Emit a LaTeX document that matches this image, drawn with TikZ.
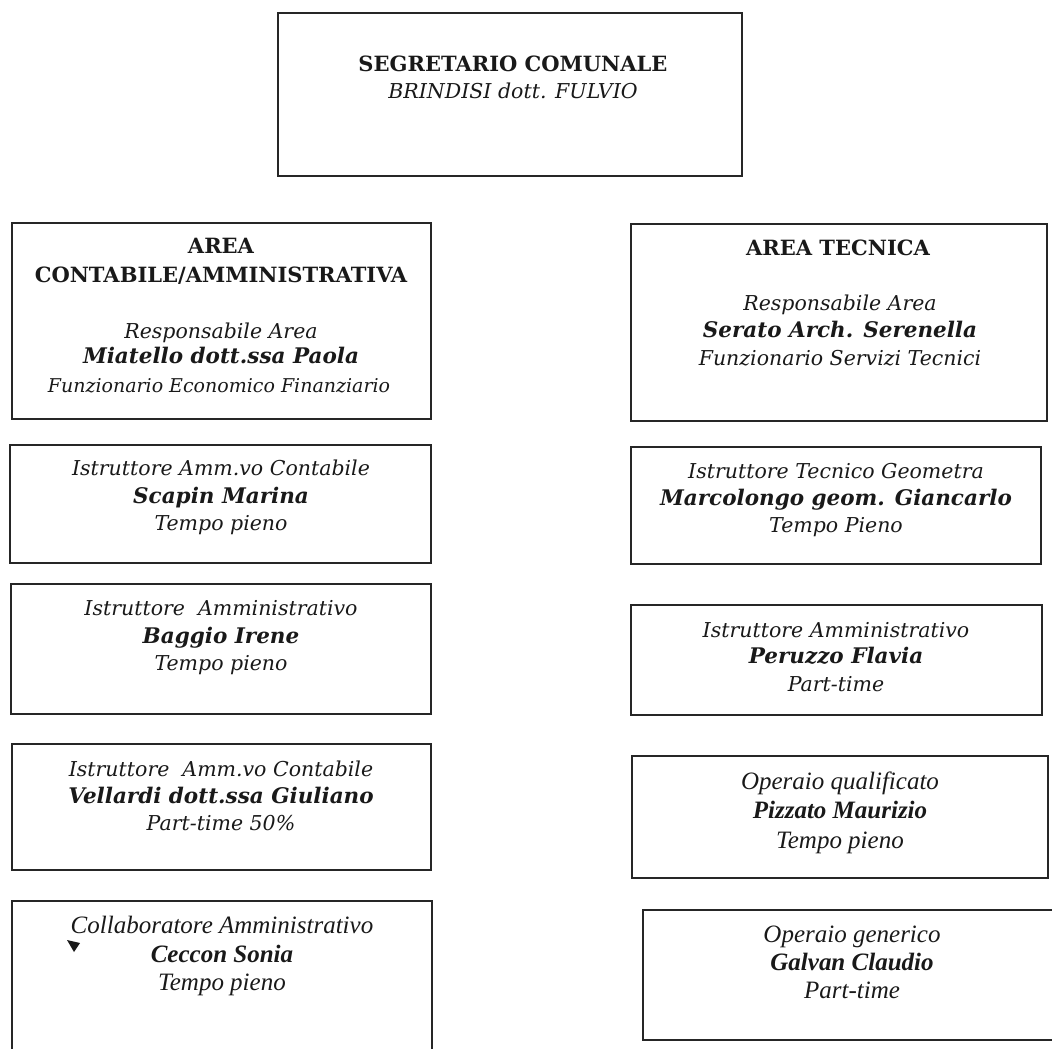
\documentclass[tikz,border=0pt]{standalone}
\usepackage{fontspec}
\newfontfamily\bkmf{DejaVu Serif}
\newfontfamily\tmsf{Liberation Serif}
\newcommand\bkmi{\bkmf\fontsize{20.5}{24}\selectfont}
\newcommand\bkms{\bkmf\fontsize{19}{24}\selectfont}
\newcommand\bkmb{\bkmf\fontsize{21}{24}\selectfont}
\newcommand\bkmn{\bkmf\fontsize{21.5}{24}\selectfont}
\newcommand\tms{\tmsf\fontsize{25}{29}\selectfont}
\begin{document}
\begin{tikzpicture}[x=1pt,y=-1pt,
  box/.style={draw=black!85,line width=1.4pt,rectangle,inner sep=0pt},
  ln/.style={anchor=base,inner sep=0pt,text=black!90},
  hd/.style={ln,font=\bkmb\bfseries},
  nm/.style={ln,font=\bkmn\bfseries\itshape},
  it/.style={ln,font=\bkmi\itshape},
  its/.style={ln,font=\bkms\itshape},
  tit/.style={ln,font=\tms\itshape},
  tnm/.style={ln,font=\tms\bfseries\itshape}]
\useasboundingbox (0,0) rectangle (1052,1049);
\clip (0,0) rectangle (1052,1049);
% boxes
\node[box,minimum width=464pt,minimum height=163pt] (seg) at (510,94.5) {};
\node[box,minimum width=419pt,minimum height=196pt] (areaL) at (221.5,321) {};
\node[box,minimum width=416pt,minimum height=197pt] (areaR) at (839,322.5) {};
\node[box,minimum width=421pt,minimum height=118pt] (L1) at (220.5,504) {};
\node[box,minimum width=420pt,minimum height=130pt] (L2) at (221,649) {};
\node[box,minimum width=419pt,minimum height=126pt] (L3) at (221.5,807) {};
\node[box,minimum width=420pt,minimum height=180pt] (L4) at (222,991) {};
\node[box,minimum width=410pt,minimum height=117pt] (R1) at (836,505.5) {};
\node[box,minimum width=411pt,minimum height=110pt] (R2) at (836.5,660) {};
\node[box,minimum width=416pt,minimum height=122pt] (R3) at (840,817) {};
\node[box,minimum width=418pt,minimum height=130pt] (R4) at (852,975) {};
% texts
\node[hd] (segA) at (513,72) {SEGRETARIO COMUNALE};
\node[it] (segB) at (513,98) {BRINDISI dott. FULVIO};
\node[hd] (aLa) at (221,253) {AREA};
\node[hd] (aLb) at (221,282) {CONTABILE/AMMINISTRATIVA};
\node[it] (aLc) at (221,338) {Responsabile Area};
\node[nm] (aLd) at (221,363) {Miatello dott.ssa Paola};
\node[its] (aLe) at (219,392) {Funzionario Economico Finanziario};
\node[hd] (aRa) at (838,255) {AREA TECNICA};
\node[it] (aRc) at (840,310) {Responsabile Area};
\node[nm] (aRd) at (840,337) {Serato Arch. Serenella};
\node[it] (aRe) at (840,365) {Funzionario Servizi Tecnici};
\node[it] (L1a) at (221,475) {Istruttore Amm.vo Contabile};
\node[nm] (L1b) at (221,503) {Scapin Marina};
\node[it] (L1c) at (221,530) {Tempo pieno};
\node[it] (L2a) at (221,615) {Istruttore\ \ Amministrativo};
\node[nm] (L2b) at (221,643) {Baggio Irene};
\node[it] (L2c) at (221,670) {Tempo pieno};
\node[it] (L3a) at (221,776) {Istruttore\ \ Amm.vo Contabile};
\node[nm] (L3b) at (221,803) {Vellardi dott.ssa Giuliano};
\node[it] (L3c) at (221,830) {Part-time 50\%};
\node[tit] (L4a) at (222,933) {Collaboratore Amministrativo};
\node[tnm] (L4b) at (222,962) {Ceccon Sonia};
\node[tit] (L4c) at (222,990) {Tempo pieno};
\node[it] (R1a) at (836,478) {Istruttore Tecnico Geometra};
\node[nm] (R1b) at (836,505) {Marcolongo geom. Giancarlo};
\node[it] (R1c) at (836,532) {Tempo Pieno};
\node[it] (R2a) at (836,637) {Istruttore Amministrativo};
\node[nm] (R2b) at (836,663) {Peruzzo Flavia};
\node[it] (R2c) at (836,691) {Part-time};
\node[tit] (R3a) at (840,789) {Operaio qualificato};
\node[tnm] (R3b) at (840,818) {Pizzato Maurizio};
\node[tit] (R3c) at (840,848) {Tempo pieno};
\node[tit] (R4a) at (852,942) {Operaio generico};
\node[tnm] (R4b) at (852,970) {Galvan Claudio};
\node[tit] (R4c) at (852,998) {Part-time};
% stray arrowhead
\fill[black!90] (67,940) -- (80,943) -- (74,952) -- cycle;
\end{tikzpicture}
\end{document}
